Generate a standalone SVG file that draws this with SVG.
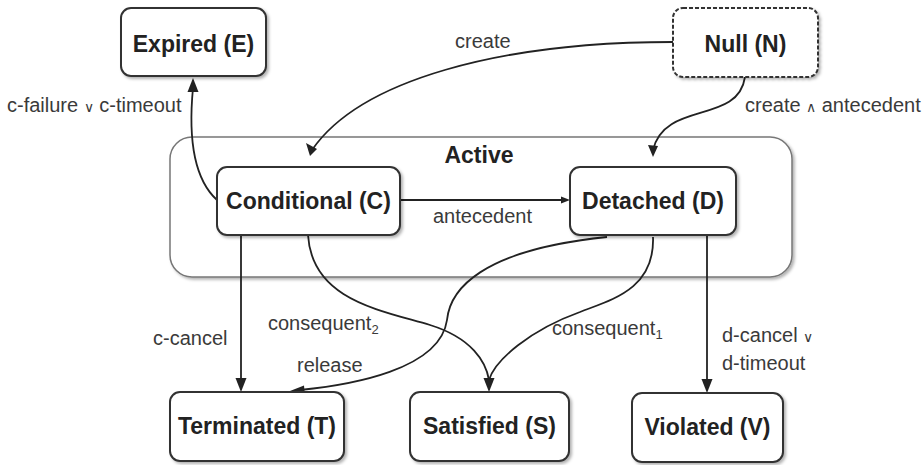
<svg xmlns="http://www.w3.org/2000/svg" width="923" height="465" viewBox="0 0 923 465">
<style>
.node{fill:#fff;stroke:#333;stroke-width:2}
.nt{font-family:"Liberation Sans",Arial,sans-serif;font-weight:bold;font-size:23px;fill:#222;text-anchor:middle}
.lb{font-family:"Liberation Sans",Arial,sans-serif;font-size:20px;fill:#3a3a3a}
.op{font-size:14px}
.sub{font-size:13px}
.edge{fill:none;stroke:#222;stroke-width:1.8}
.ah{fill:#222}
</style>
<defs>
<filter id="sh" x="-10%" y="-10%" width="130%" height="130%"><feDropShadow dx="2" dy="2" stdDeviation="1.5" flood-color="#000" flood-opacity="0.3"/></filter>
</defs>
<rect width="923" height="465" fill="#fff"/>
<g id="active">
<rect x="170" y="137" width="622" height="140" rx="22" fill="#fff" stroke="#777" stroke-width="1.5" filter="url(#sh)"/>
<text class="nt" x="479" y="163">Active</text>
</g>
<g id="connectors">
<path class="edge" d="M217,200 C195,180 188,140 193,88"/>
<path class="ah" d="M193,78 L187.5,92 L198.5,92 Z"/>
<path class="edge" d="M673,42 C500,42 360,80 312,150"/>
<path class="ah" d="M310,156 L306,143 L317,149 Z"/>
<path class="edge" d="M745,77 C738,125 665,100 653,150"/>
<path class="ah" d="M653,157 L648,145 L658,146 Z"/>
<path class="edge" d="M400,200 L563,200"/>
<path class="ah" d="M570,200 L561,196.5 L561,203.5 Z"/>
<path class="edge" d="M241,235 L241,380"/>
<path class="ah" d="M241,392 L235.5,378 L246.5,378 Z"/>
<path class="edge" d="M308,235 C312,300 380,310 430,325 C472,338 486,362 489,380"/>
<path class="edge" d="M607,237 C480,250 450,290 447,320 C440,370 350,385 300,390"/>
<path class="ah" d="M290,391 L304,385.5 L305,396.5 Z"/>
<path class="edge" d="M653,237 C655,290 610,300 580,312 C530,330 495,360 489,380"/>
<path class="ah" d="M489,392 L483.5,378 L494.5,378 Z"/>
<path class="edge" d="M707,235 L707,380"/>
<path class="ah" d="M707,393 L701.5,379 L712.5,379 Z"/>
</g>
<g id="labels">
<text class="lb" x="455" y="48">create</text>
<text class="lb" x="7" y="112">c-failure <tspan class="op">∨</tspan> c-timeout</text>
<text class="lb" x="745" y="112">create <tspan class="op">∧</tspan> antecedent</text>
<text class="lb" x="433" y="223">antecedent</text>
<text class="lb" x="153" y="345">c-cancel</text>
<text class="lb" x="268" y="330">consequent<tspan class="sub" dy="4">2</tspan></text>
<text class="lb" x="297" y="372">release</text>
<text class="lb" x="552" y="335">consequent<tspan class="sub" dy="4">1</tspan></text>
<text class="lb" x="722" y="342">d-cancel <tspan class="op">∨</tspan></text>
<text class="lb" x="722" y="370">d-timeout</text>
</g>
<g id="expired">
<rect class="node" x="121" y="8" width="145" height="68" rx="10" filter="url(#sh)"/>
<text class="nt" x="193.5" y="52">Expired (E)</text>
</g>
<g id="null">
<rect class="node" x="673" y="8" width="145" height="69" rx="10" stroke-dasharray="4,2" filter="url(#sh)"/>
<text class="nt" x="745.5" y="52">Null (N)</text>
</g>
<g id="conditional">
<rect class="node" x="217" y="167" width="183" height="68" rx="10" filter="url(#sh)"/>
<text class="nt" x="308.5" y="209">Conditional (C)</text>
</g>
<g id="detached">
<rect class="node" x="570" y="167" width="166" height="68" rx="10" filter="url(#sh)"/>
<text class="nt" x="653" y="209">Detached (D)</text>
</g>
<g id="terminated">
<rect class="node" x="170" y="392" width="174" height="69" rx="10" filter="url(#sh)"/>
<text class="nt" x="257" y="434">Terminated (T)</text>
</g>
<g id="satisfied">
<rect class="node" x="410" y="392" width="159" height="69" rx="10" filter="url(#sh)"/>
<text class="nt" x="489.5" y="434">Satisfied (S)</text>
</g>
<g id="violated">
<rect class="node" x="632" y="393" width="151" height="69" rx="10" filter="url(#sh)"/>
<text class="nt" x="707.5" y="435">Violated (V)</text>
</g>
</svg>
